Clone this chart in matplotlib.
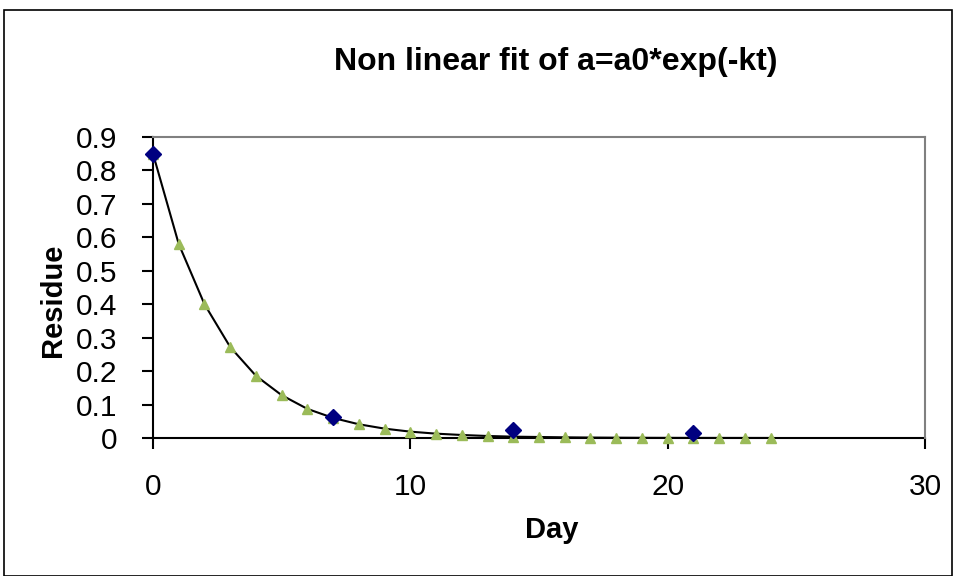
import matplotlib
matplotlib.use("Agg")
import matplotlib.pyplot as plt
from matplotlib.patches import Rectangle

plt.rcParams['font.family'] = ['Liberation Sans', 'DejaVu Sans']

fit_days = list(range(25))
fit_values = [0.85, 0.58, 0.40, 0.272, 0.186, 0.128, 0.087, 0.060, 0.041, 0.028,
              0.019, 0.013, 0.009, 0.006, 0.004, 0.003, 0.002, 0.0013, 0.0009, 0.0006,
              0.0004, 0.0003, 0.0002, 0.00014, 0.0001]
obs_days = [0, 7, 14, 21]
obs_values = [0.85, 0.064, 0.024, 0.015]
xticks = [0, 10, 20, 30]
yticks = [0, 0.1, 0.2, 0.3, 0.4, 0.5, 0.6, 0.7, 0.8, 0.9]
ytick_labels = ["0", "0.1", "0.2", "0.3", "0.4", "0.5", "0.6", "0.7", "0.8", "0.9"]

W, H = 955, 576
fig = plt.figure(figsize=(W/100, H/100), dpi=100)
fig.patches.append(Rectangle((4/W, 0), (952-4)/W, (H-10)/H, transform=fig.transFigure,
                             fill=False, edgecolor='black', linewidth=1.2))
ax = fig.add_axes([153/W, 1-438/H, (925-153)/W, (438-137)/H])

ax.plot(fit_days, fit_values, color='black', linewidth=1.5, zorder=2)
ax.plot(fit_days, fit_values, linestyle='none', marker='^', color='#9BBB59', markersize=7,
        zorder=3, clip_on=False)
ax.plot(obs_days, obs_values, linestyle='none', marker='D', color='#000080', markersize=8,
        zorder=4, clip_on=False)

ax.set_xlim(0, 30)
ax.set_ylim(0, 0.9)
ax.set_xticks(xticks)
ax.set_yticks(yticks)
ax.set_yticklabels(ytick_labels)
ax.tick_params(axis='both', labelsize=21.5, direction='out', length=8, width=1.5, colors='black')
ax.tick_params(axis='x', pad=17)
ax.tick_params(axis='y', pad=18)
for s in ['top', 'right']:
    ax.spines[s].set_color('#808080')
    ax.spines[s].set_linewidth(1.5)
for s in ['left', 'bottom']:
    ax.spines[s].set_color('black')
    ax.spines[s].set_linewidth(1.5)
ax.spines['bottom'].set_zorder(1)
ax.spines['left'].set_zorder(1)

fig.text(552/W, 1-530/H, 'Day', fontsize=21, fontweight='bold', ha='center', va='center')
fig.text(53/W, 1-300/H, 'Residue', fontsize=21, fontweight='bold', ha='center', va='center',
         rotation=90)
fig.text(556/W, 1-62/H, 'Non linear fit of a=a0*exp(-kt)', fontsize=23, fontweight='bold',
         ha='center', va='center')

fig.savefig('out.png', dpi=100)
